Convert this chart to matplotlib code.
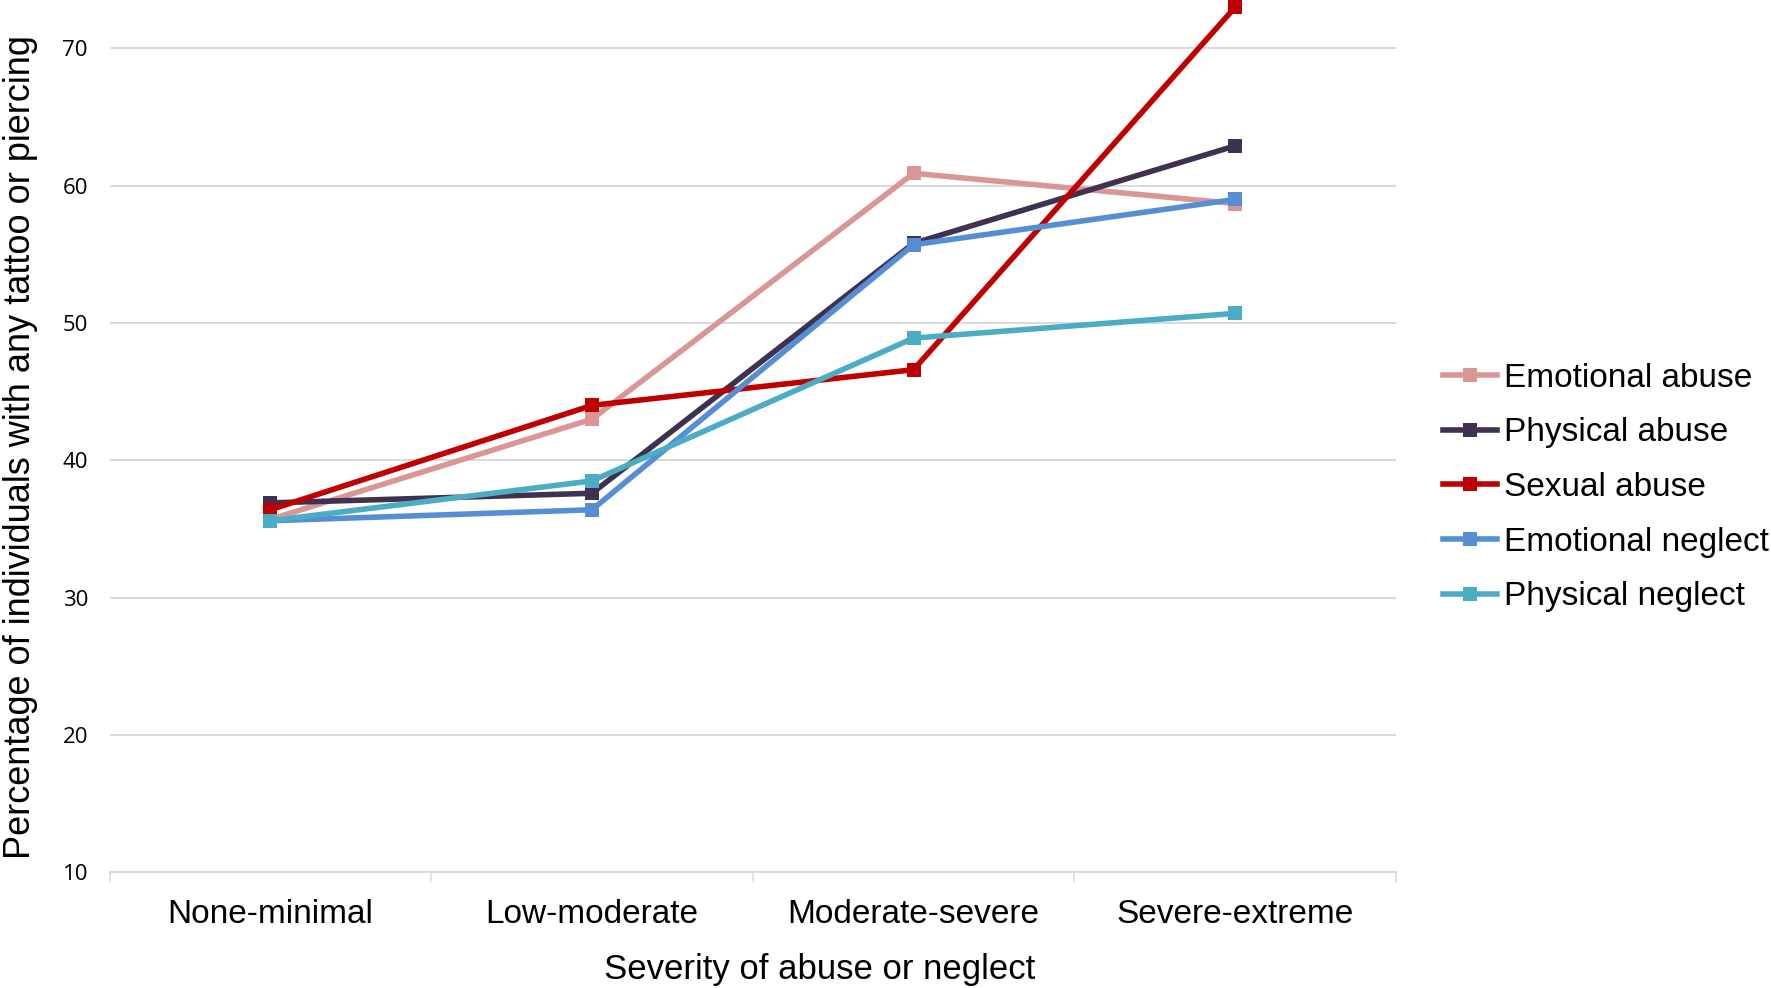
import matplotlib
matplotlib.use("Agg")
import matplotlib.pyplot as plt
from matplotlib.ticker import FixedLocator

categories = ["None-minimal", "Low-moderate", "Moderate-severe", "Severe-extreme"]
series_names = ["Emotional abuse", "Physical abuse", "Sexual abuse", "Emotional neglect", "Physical neglect"]
emotional_abuse = [35.7, 43.0, 60.9, 58.7]
physical_abuse = [36.9, 37.6, 55.8, 62.9]
sexual_abuse = [36.4, 44.0, 46.6, 73.0]
emotional_neglect = [35.6, 36.4, 55.7, 59.0]
physical_neglect = [35.6, 38.5, 48.9, 50.7]
y_ticks = [10, 20, 30, 40, 50, 60, 70]

series_values = [emotional_abuse, physical_abuse, sexual_abuse, emotional_neglect, physical_neglect]
colors = ["#DA9694", "#3F3151", "#C00000", "#558ED5", "#4BACC6"]

W, H = 1771, 988
fig = plt.figure(figsize=(W / 100, H / 100), dpi=100)
ax_left, ax_right = 109.5, 1396
ax_bottom = 872.3
ax = fig.add_axes([ax_left / W, 1 - ax_bottom / H, (ax_right - ax_left) / W, ax_bottom / H])

x = list(range(len(categories)))
handles = []
for name, vals, c in zip(series_names, series_values, colors):
    h, = ax.plot(x, vals, color=c, lw=4.0, marker="s", markersize=9.8,
                 markeredgewidth=0, label=name, clip_on=False, zorder=3)
    handles.append(h)

ax.set_xlim(-0.5, 3.5)
ax.set_ylim(10, 73.52)

ax.yaxis.set_major_locator(FixedLocator(y_ticks))
ax.grid(axis="y", color="#D9D9D9", lw=1.4, zorder=0)
ax.set_axisbelow(True)
ax.tick_params(axis="y", length=0, pad=15.5, labelsize=16)
for lab in ax.get_yticklabels():
    lab.set_fontfamily("Open Sans")

ax.xaxis.set_major_locator(FixedLocator(x))
ax.set_xticklabels(categories, fontsize=24, fontfamily="Liberation Sans")
ax.xaxis.set_minor_locator(FixedLocator([-0.5, 0.5, 1.5, 2.5, 3.5]))
ax.tick_params(axis="x", which="major", length=0, pad=19)
ax.tick_params(axis="x", which="minor", length=7.2, width=1.1, color="#D9D9D9", direction="out")

for s in ["top", "right", "left"]:
    ax.spines[s].set_visible(False)
ax.spines["bottom"].set_color("#D9D9D9")
ax.spines["bottom"].set_linewidth(1.4)

fig.text(21 / W, 1 - 447 / H, "Percentage of individuals with any tattoo or piercing",
         rotation=90, ha="center", va="center", fontsize=26, fontfamily="Liberation Sans")
fig.text(820 / W, 1 - 969 / H, "Severity of abuse or neglect",
         ha="center", va="center", fontsize=25, fontfamily="Liberation Sans")

leg = fig.legend(handles=handles, loc="center left",
                 bbox_to_anchor=(1443 / W, 1 - 487.5 / H), bbox_transform=fig.transFigure,
                 frameon=False, borderaxespad=0, borderpad=0, handlelength=1.62,
                 handletextpad=0.2, labelspacing=0.71,
                 prop={"family": "Liberation Sans", "size": 24})

fig.savefig("out.png", dpi=100)
